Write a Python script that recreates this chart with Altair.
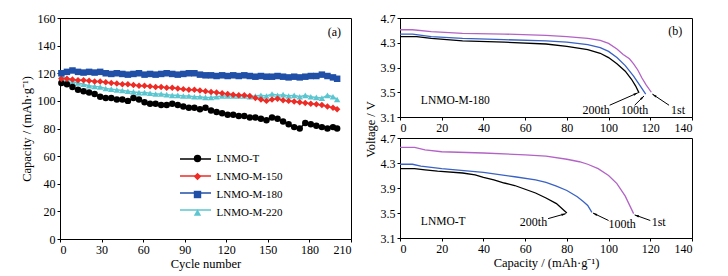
import math
import altair as alt
import pandas as pd

FONT = "Liberation Serif"

# ---------------- panel (a): cycling capacity ----------------
cycles = list(range(1, 198, 4)) + [200]

cap_lnmo_t = [113, 112, 110, 108, 107, 106, 105, 103, 102, 102,
              101, 101, 100, 102, 101, 99, 98, 98, 97, 97,
              98, 97, 96, 95, 95, 94, 95, 93, 92, 91,
              90, 90, 89, 89, 88, 88, 87, 86, 88, 87,
              85, 83, 81, 80, 84, 83, 82, 81, 80, 81, 80]
cap_m150 = [116, 116, 115.5, 115, 115, 114.5, 114, 114, 113.5, 113,
            112.5, 112, 112, 111.5, 111, 111, 110.5, 110, 110, 109.5,
            109.5, 109, 108.5, 108, 108, 107.5, 107, 106.5, 106, 105.5,
            105, 104.5, 104, 104, 103.5, 102, 101, 100, 101, 101.5,
            100.5, 100, 99.5, 99, 98.5, 98, 97.5, 97, 96, 95, 94]
cap_m180 = [120, 121, 122, 121, 120.5, 121, 120.5, 121, 120, 119.5,
            120, 119.5, 119, 119.5, 120, 119, 119.5, 119, 119.5, 120,
            119.5, 119, 119.5, 120, 120, 119, 118.5, 118.5, 118, 118.5,
            118, 118.5, 118, 118.5, 118, 117.5, 118, 117.5, 117.5, 118,
            117.5, 117, 117.5, 117, 117.5, 118, 118, 119, 118, 117, 116]
cap_m220 = [118, 116, 114, 113, 112, 111, 110.5, 110, 109, 108.5,
            108, 107.5, 107, 106.5, 106, 106, 105.5, 105, 105, 104.5,
            104, 104, 103.5, 103.5, 103, 103, 102.5, 102.5, 103, 103.5,
            103.5, 103.5, 103.5, 103.5, 103, 103.5, 104, 103.5, 105, 104,
            104.5, 103.5, 104, 103, 104, 103, 102.5, 102, 104, 103, 101]

series_names = ["LNMO-T", "LNMO-M-150", "LNMO-M-180", "LNMO-M-220"]
series_colors = ["#000000", "#ee2b25", "#1f4fa6", "#5cc6d0"]
series_shapes = ["circle", "diamond", "square", "triangle-up"]
draw_order = ["LNMO-M-220", "LNMO-T", "LNMO-M-150", "LNMO-M-180"]
series_values = {"LNMO-T": cap_lnmo_t, "LNMO-M-150": cap_m150,
                 "LNMO-M-180": cap_m180, "LNMO-M-220": cap_m220}

cycle_ticks = [0, 30, 60, 90, 120, 150, 180, 210]
capacity_ticks = [0, 20, 40, 60, 80, 100, 120, 140, 160]

# ---------------- panel (b): discharge curves ----------------
curve_names = ["1st", "100th", "200th"]
curve_colors = ["#b363c6", "#3a62c4", "#000000"]

# LNMO-M-180
m180_1st_cap = [0, 6, 15, 30, 50, 70, 80, 90, 96, 100, 104, 107, 110, 112, 114, 116, 118, 120.5]
m180_1st_v = [4.51, 4.51, 4.48, 4.45, 4.44, 4.42, 4.40, 4.37, 4.34, 4.29, 4.20, 4.11, 4.04, 3.96, 3.86, 3.73, 3.62, 3.50]
m180_100_cap = [0, 6, 15, 30, 50, 70, 80, 90, 96, 100, 104, 108, 112, 115, 117.8]
m180_100_v = [4.44, 4.44, 4.40, 4.37, 4.35, 4.33, 4.31, 4.27, 4.22, 4.16, 4.06, 3.93, 3.76, 3.61, 3.47]
m180_200_cap = [0, 8, 15, 30, 50, 70, 80, 90, 96, 100, 104, 108, 111, 113, 114.6]
m180_200_v = [4.40, 4.40, 4.37, 4.33, 4.31, 4.28, 4.24, 4.19, 4.13, 4.06, 3.96, 3.84, 3.71, 3.60, 3.49]

# LNMO-T
t_1st_cap = [0, 7, 12, 20, 40, 60, 70, 80, 86, 90, 95, 100, 104, 108, 112]
t_1st_v = [4.55, 4.55, 4.51, 4.48, 4.46, 4.43, 4.41, 4.36, 4.32, 4.28, 4.21, 4.10, 3.97, 3.77, 3.49]
t_100_cap = [0, 6, 10, 20, 40, 55, 65, 70, 75, 80, 85, 88, 90, 92]
t_100_v = [4.28, 4.28, 4.25, 4.21, 4.15, 4.08, 4.03, 3.99, 3.93, 3.86, 3.76, 3.68, 3.62, 3.51]
t_200_cap = [0, 7, 12, 18, 30, 36, 40, 45, 50, 55, 60, 65, 70, 75, 80]
t_200_v = [4.21, 4.21, 4.19, 4.17, 4.14, 4.11, 4.07, 4.03, 3.98, 3.94, 3.88, 3.82, 3.74, 3.65, 3.50]

# annotations (labels, arrow tail -> head) in data units
m180_text_x = [94, 112.5, 133.3]
m180_text_y = [3.22, 3.22, 3.22]
m180_tail_x = [100.5, 112.5, 129]
m180_tail_y = [3.29, 3.29, 3.29]
m180_head_x = [114, 117, 121]
m180_head_y = [3.49, 3.44, 3.47]

t_text_x = [64, 106.5, 124]
t_text_y = [3.36, 3.33, 3.35]
t_tail_x = [71, 100, 120]
t_tail_y = [3.41, 3.38, 3.38]
t_head_x = [79.5, 92.5, 112.5]
t_head_y = [3.49, 3.50, 3.47]

cap_ticks_b = [0, 20, 40, 60, 80, 100, 120, 140]
volt_ticks = [3.1, 3.5, 3.9, 4.3, 4.7]

CAP_TITLE = "Capacity / (mAh\u00b7g\u207b\u00b9)"

# sizes
LEFT_W, LEFT_H = 291, 221
RIGHT_W, TOP_H, BOT_H = 292, 99, 100


def axis(**kw):
    base = dict(labelFont=FONT, labelFontSize=12, titleFont=FONT, titleFontSize=12.5,
                titleFontWeight="normal", labelColor="black", titleColor="black",
                domainColor="black", tickColor="black", tickSize=3, labelPadding=2,
                grid=False, domainWidth=1, tickWidth=1)
    base.update(kw)
    return alt.Axis(**base)


# ---------- build (a) ----------
rows = []
for name in draw_order:
    for c, v in zip(cycles, series_values[name]):
        rows.append({"cycle": c, "capacity": v, "series": name})
left_df = pd.DataFrame(rows)

xa_axis = axis(values=cycle_ticks, title="Cycle number", titlePadding=2)
ya_axis = axis(values=capacity_ticks, title=CAP_TITLE, titlePadding=4)
xa = alt.X("cycle:Q", scale=alt.Scale(domain=[0, 210], nice=False), axis=xa_axis)
ya = alt.Y("capacity:Q", scale=alt.Scale(domain=[0, 160], nice=False), axis=ya_axis)
color_scale = alt.Scale(domain=series_names, range=series_colors)
shape_scale = alt.Scale(domain=series_names, range=series_shapes)

leg_common = dict(title=None, orient="none", legendX=120, legendY=135,
                  labelFont=FONT, labelFontSize=11, rowPadding=6, padding=0)
# line part of the legend (wide stroke drawn from a custom path)
legend_lines = alt.Legend(symbolType="M-3,0H3", symbolSize=107, symbolStrokeWidth=1.5,
                          symbolOffset=9.5, labelOffset=5,
                          labelColor="rgba(0,0,0,0)", **leg_common)
# marker part of the legend, carries the visible labels
legend_pts = alt.Legend(symbolSize=55, symbolOffset=12, symbolStrokeWidth=0,
                        labelOffset=13.5, labelColor="black", **leg_common)

base_a = alt.Chart(left_df)
lines_a = base_a.mark_line(strokeWidth=1.5).encode(
    x=xa, y=ya,
    color=alt.Color("series:N", scale=color_scale, legend=legend_lines),
)
points_a = base_a.mark_point(filled=True, size=42, opacity=1).encode(
    x=xa, y=ya,
    color=alt.Color("series:N", scale=color_scale, legend=legend_pts),
    shape=alt.Shape("series:N", scale=shape_scale, legend=legend_pts),
)
tag_a = alt.Chart(pd.DataFrame({"cycle": [198], "capacity": [150], "t": ["(a)"]})).mark_text(
    font=FONT, fontSize=12, color="black").encode(x=xa, y=ya, text="t:N")

left = alt.layer(lines_a, points_a, tag_a).resolve_legend(
    color="independent", shape="independent").properties(width=LEFT_W, height=LEFT_H)


# ---------- build (b) ----------
def discharge_panel(caps, volts, text_x, text_y, tail_x, tail_y, head_x, head_y,
                    sample, height, show_xtitle, show_ytitle, tag=None):
    rows = []
    for name, cs, vs in zip(curve_names, caps, volts):
        for c, v in zip(cs, vs):
            rows.append({"capacity": c, "voltage": v, "curve": name})
    df = pd.DataFrame(rows)

    xkw = dict(values=cap_ticks_b, titlePadding=2)
    xkw["title"] = CAP_TITLE if show_xtitle else None
    ykw = dict(values=volt_ticks, format=".1f", titlePadding=3)
    if show_ytitle:
        ykw["title"] = "Voltage / V"
        ykw["titleY"] = height + 12
    else:
        ykw["title"] = None
    x_axis = axis(**xkw)
    y_axis = axis(**ykw)
    xs = alt.Scale(domain=[0, 140], nice=False)
    ys = alt.Scale(domain=[3.1, 4.7], nice=False)

    def X(f):
        return alt.X(f, type="quantitative", scale=xs, axis=x_axis)

    def Y(f):
        return alt.Y(f, type="quantitative", scale=ys, axis=y_axis)

    px = RIGHT_W / 140.0
    py = height / 1.6
    angles = []
    for tx, ty, hx, hy in zip(tail_x, tail_y, head_x, head_y):
        a = math.degrees(math.atan2((hx - tx) * px, (hy - ty) * py)) % 360
        angles.append(a)
    ann = pd.DataFrame({"label": ["200th", "100th", "1st"],
                        "tx": text_x, "ty": text_y,
                        "x1": tail_x, "y1": tail_y, "x2": head_x, "y2": head_y,
                        "ang": angles})

    curves = alt.Chart(df).mark_line(strokeWidth=1.3).encode(
        x=X("capacity"), y=Y("voltage"),
        stroke=alt.Stroke("curve:N", scale=alt.Scale(domain=curve_names, range=curve_colors),
                          legend=None),
    )
    arrows = alt.Chart(ann).mark_rule(color="black", strokeWidth=1).encode(
        x=X("x1"), y=Y("y1"), x2="x2:Q", y2="y2:Q")
    heads = alt.Chart(ann).mark_point(shape="M0,0L-0.55,2.2L0.55,2.2Z", filled=True,
                                      color="black", opacity=1, size=16).encode(
        x=X("x2"), y=Y("y2"), angle=alt.Angle("ang:Q", scale=None))
    labels = alt.Chart(ann).mark_text(font=FONT, fontSize=12, color="black").encode(
        x=X("tx"), y=Y("ty"), text="label:N")
    sample_df = pd.DataFrame({"sx": [10], "sy": [3.36], "s": [sample]})
    sample_txt = alt.Chart(sample_df).mark_text(font=FONT, fontSize=11.5, color="black",
                                                align="left").encode(
        x=X("sx"), y=Y("sy"), text="s:N")
    layers = [curves, arrows, heads, labels, sample_txt]
    if tag is not None:
        tag_df = pd.DataFrame({"gx": [132], "gy": [4.49], "g": [tag]})
        layers.append(alt.Chart(tag_df).mark_text(font=FONT, fontSize=12, color="black").encode(
            x=X("gx"), y=Y("gy"), text="g:N"))
    return alt.layer(*layers).properties(width=RIGHT_W, height=height)


top = discharge_panel([m180_1st_cap, m180_100_cap, m180_200_cap],
                      [m180_1st_v, m180_100_v, m180_200_v],
                      m180_text_x, m180_text_y, m180_tail_x, m180_tail_y,
                      m180_head_x, m180_head_y, "LNMO-M-180", TOP_H,
                      show_xtitle=False, show_ytitle=True, tag="(b)")
bottom = discharge_panel([t_1st_cap, t_100_cap, t_200_cap],
                         [t_1st_v, t_100_v, t_200_v],
                         t_text_x, t_text_y, t_tail_x, t_tail_y,
                         t_head_x, t_head_y, "LNMO-T", BOT_H,
                         show_xtitle=True, show_ytitle=False)

right = alt.vconcat(top, bottom, spacing=21, bounds="flush").resolve_scale(
    x="independent", y="independent", stroke="independent")

chart = alt.hconcat(left, right, spacing=49, bounds="flush").resolve_scale(
    x="independent", y="independent", color="independent", shape="independent",
    stroke="independent").resolve_legend(color="independent", shape="independent",
    stroke="independent").properties(
    padding={"left": 19, "top": 11, "right": 5, "bottom": 5},
    background="white",
).configure_view(stroke="black", strokeWidth=1)

chart.save("out.html", embed_options={"renderer": "svg", "actions": False})
